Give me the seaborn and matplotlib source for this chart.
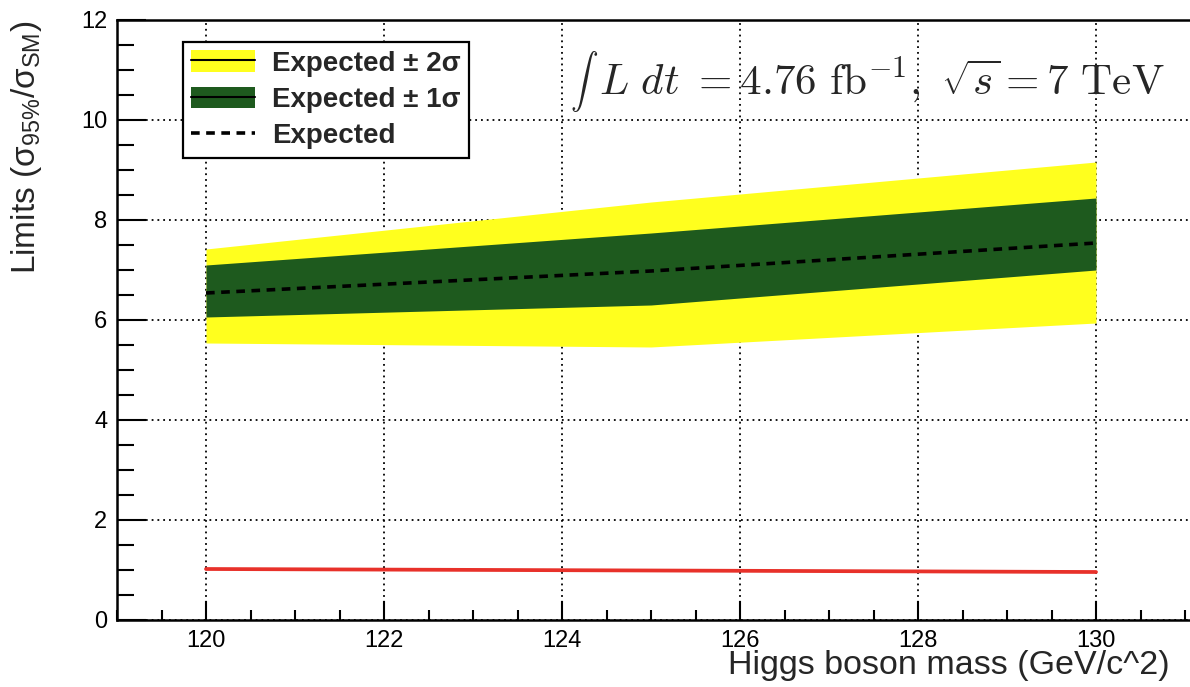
import matplotlib
matplotlib.use("Agg")
import matplotlib.pyplot as plt
import seaborn as sns
import pandas as pd
from matplotlib.patches import Patch
from matplotlib.lines import Line2D
from matplotlib.ticker import MultipleLocator

# ---- data ----
mass = [120, 125, 130]
expected = [6.54, 6.98, 7.54]
band1_lo = [6.06, 6.30, 7.00]
band1_hi = [7.10, 7.74, 8.44]
band2_lo = [5.54, 5.46, 5.94]
band2_hi = [7.42, 8.36, 9.16]
observed = [1.02, 0.99, 0.96]

legend_labels = ["Expected ± 2σ", "Expected ± 1σ", "Expected"]
annotation_int = r"$\int$"
annotation = r"$L\ dt\ {=}4.76\ \mathrm{fb}^{-1},\ \sqrt{s} = 7\ \mathrm{TeV}$"
xlabel = "Higgs boson mass (GeV/c^2)"
ylabel = r"Limits (σ$_{\mathregular{95\%}}$/σ$_{\mathregular{SM}}$)"

df = pd.DataFrame({"mass": mass, "expected": expected, "observed": observed})

sns.set_style("white")
plt.rcParams["font.family"] = ["Liberation Sans", "DejaVu Sans"]

YELLOW = "#FFFF1E"
GREEN = "#1E5A1E"
RED = "#E8312A"

fig = plt.figure(figsize=(11.9, 6.87), dpi=100)
ax = fig.add_axes([117 / 1190, 67 / 687, 1073 / 1190, 600 / 687])

ax.fill_between(mass, band2_lo, band2_hi, color=YELLOW, lw=0, zorder=2)
ax.fill_between(mass, band1_lo, band1_hi, color=GREEN, lw=0, zorder=3)
sns.lineplot(data=df, x="mass", y="expected", ax=ax, color="black",
             linestyle=(0, (2.4, 1.8)), linewidth=2.6, zorder=4)
sns.lineplot(data=df, x="mass", y="observed", ax=ax, color=RED,
             linewidth=2.7, zorder=4)

ax.set_xlim(119, 119 + 1073 / 89)
ax.set_ylim(0, 12)

ax.xaxis.set_major_locator(MultipleLocator(2))
ax.xaxis.set_minor_locator(MultipleLocator(0.5))
ax.yaxis.set_major_locator(MultipleLocator(2))
ax.yaxis.set_minor_locator(MultipleLocator(0.5))

ax.grid(True, which="major", color="black", linestyle=(0, (1, 2.2)),
        linewidth=1.3, zorder=0)
ax.set_axisbelow(True)

ax.tick_params(axis="both", which="both", direction="in", width=1.5,
               colors="black", labelsize=17, bottom=True, left=True,
               top=False, right=False)
ax.tick_params(axis="y", which="major", length=21, pad=7)
ax.tick_params(axis="y", which="minor", length=12)
ax.tick_params(axis="x", which="major", length=14, pad=7)
ax.tick_params(axis="x", which="minor", length=7)

for side in ["left", "bottom", "top"]:
    ax.spines[side].set_color("black")
    ax.spines[side].set_linewidth(1.8)
ax.spines["right"].set_visible(False)

ax.set_xlabel(xlabel, fontsize=24.5, ha="right")
ax.xaxis.set_label_coords((1170 - 117) / 1073, -0.05)
ax.set_ylabel(ylabel, fontsize=24, ha="right")
ax.yaxis.set_label_coords(-0.068, 1.0)

ax.text((570 - 117) / 1073, (620 - 82) / 600, annotation_int, transform=ax.transAxes,
        ha="left", va="center", fontsize=20, math_fontfamily="cm", zorder=6)
ax.text((1165 - 117) / 1073, (620 - 81) / 600, annotation, transform=ax.transAxes,
        ha="right", va="center", fontsize=31, math_fontfamily="cm", zorder=6)

h2 = (Patch(facecolor=YELLOW, edgecolor="none"), Line2D([], [], color="black", lw=1.5))
h1 = (Patch(facecolor=GREEN, edgecolor="none"), Line2D([], [], color="black", lw=1.5))
h0 = Line2D([], [], color="black", linestyle=(0, (2.4, 1.8)), lw=2.6)
leg = ax.legend([h2, h1, h0], legend_labels, loc="upper left",
                bbox_to_anchor=((183 - 117) / 1073, (620 - 42) / 600),
                borderaxespad=0, frameon=True, fancybox=False, shadow=False,
                framealpha=1, edgecolor="black",
                prop={"weight": "bold", "size": 20}, handlelength=2.3,
                handleheight=0.8, handletextpad=0.6, labelspacing=0.36,
                borderpad=0.3)
leg.get_frame().set_linewidth(1.6)
leg.set_zorder(7)

fig.savefig("out.png", dpi=100)
